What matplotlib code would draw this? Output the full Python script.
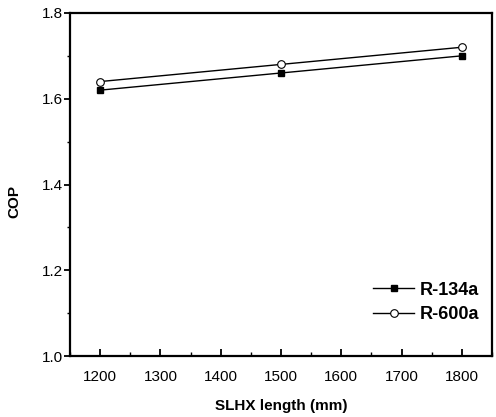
import matplotlib
matplotlib.use("Agg")
import matplotlib.pyplot as plt
from matplotlib.ticker import MultipleLocator

plt.rcParams['font.family'] = ['Liberation Sans', 'DejaVu Sans']

# Data
slhx_length = [1200, 1500, 1800]
cop_r134a = [1.62, 1.66, 1.70]
cop_r600a = [1.64, 1.68, 1.72]

fig = plt.figure(figsize=(4.96, 4.17), dpi=100)
ax = fig.add_axes([0.141, 0.146, 0.851, 0.823])

ax.plot(slhx_length, cop_r134a, color='black', lw=1.0, marker='s', ms=5,
        mfc='black', mec='black', label='R-134a')
ax.plot(slhx_length, cop_r600a, color='black', lw=1.0, marker='o', ms=5.5,
        mfc='white', mec='black', mew=0.8, label='R-600a')

ax.set_xlim(1150, 1850)
ax.set_ylim(1.0, 1.8)
ax.xaxis.set_major_locator(MultipleLocator(100))
ax.xaxis.set_minor_locator(MultipleLocator(50))
ax.yaxis.set_major_locator(MultipleLocator(0.2))
ax.yaxis.set_minor_locator(MultipleLocator(0.1))

for s in ax.spines.values():
    s.set_linewidth(1.6)

ax.tick_params(axis='x', which='major', direction='in', length=5, width=1.3, labelsize=11, pad=10)
ax.tick_params(axis='x', which='minor', direction='in', length=3, width=1.0)
ax.tick_params(axis='y', which='major', direction='out', length=4, width=1.3, labelsize=11, pad=1)
ax.tick_params(axis='y', which='minor', direction='out', length=2, width=1.0)

ax.set_xlabel('SLHX length (mm)', fontsize=11, fontweight='bold', labelpad=11)
ax.set_ylabel('COP', fontsize=11, fontweight='bold')
ax.yaxis.set_label_coords(-0.114, 0.45)

leg = ax.legend(loc='lower right', bbox_to_anchor=(1.0, 0.06), frameon=False,
                handlelength=2.3, handletextpad=0.3, borderaxespad=0.3,
                labelspacing=0.4, prop={'weight': 'bold', 'size': 13})

fig.savefig('out.png', dpi=100)
